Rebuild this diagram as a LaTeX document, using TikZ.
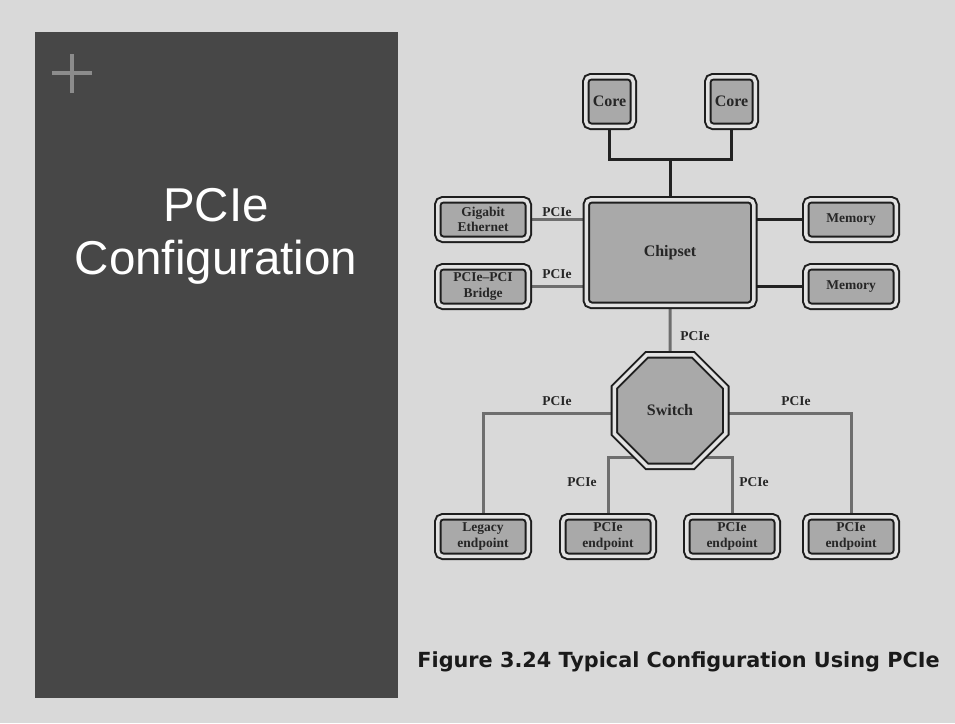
\documentclass[tikz,border=0pt]{standalone}
\usepackage{fontspec}
\setmainfont{Liberation Serif}
\newfontfamily\titlefont{Liberation Sans}
\newfontfamily\capfont{DejaVu Sans}
\usetikzlibrary{shapes.geometric,backgrounds}
\definecolor{pagebg}{HTML}{D9D9D9}
\definecolor{panel}{HTML}{474747}
\definecolor{plusc}{HTML}{8C8C8C}
\definecolor{boxline}{HTML}{1E1E1E}
\definecolor{boxgap}{HTML}{E2E2E2}
\definecolor{boxfill}{HTML}{A9A9A9}
\definecolor{lineblack}{HTML}{222222}
\definecolor{linegray}{HTML}{6E6E6E}
\definecolor{txt}{HTML}{262626}
\definecolor{captxt}{HTML}{1A1A1A}
\tikzset{
  dbox/.style={draw=boxline, line width=2pt, double=boxgap, double distance=3.5pt,
    fill=boxfill, rounded corners=5pt, inner sep=0pt, outer sep=0pt, align=center,
    text=txt, font=\bfseries\fontsize{13.5}{15.5}\selectfont},
  smallbox/.style={dbox, minimum width=90.5pt, minimum height=39.5pt},
  bigtext/.style={font=\bfseries\fontsize{16}{18}\selectfont},
  swbox/.style={draw=boxline, line width=2pt, double=boxgap, double distance=3.5pt,
    fill=boxfill, regular polygon, regular polygon sides=8, minimum size=120.7pt,
    inner sep=0pt, outer sep=0pt, text=txt, font=\bfseries\fontsize{16}{18}\selectfont},
  conblack/.style={draw=lineblack, line width=3pt},
  congray/.style={draw=linegray, line width=3pt},
  lab/.style={font=\bfseries\fontsize{13.5}{15}\selectfont, text=txt, inner sep=0pt},
  plusline/.style={draw=plusc, line width=3.5pt},
  titlef/.style={font=\titlefont\fontsize{47.5}{53}\selectfont, text=white, align=center, inner sep=0pt},
  capf/.style={font=\capfont\bfseries\fontsize{20.8}{24}\selectfont, text=captxt, inner sep=0pt}
}
\begin{document}
\begin{tikzpicture}[x=1pt,y=-1pt]
\path[use as bounding box] (0,0) rectangle (955,723);
\begin{pgfonlayer}{background}
  \fill[pagebg] (0,0) rectangle (955,723);
  \fill[panel] (35,32) rectangle (398,698);
\end{pgfonlayer}
% plus sign
\draw[plusline] (52,73) -- (92,73);
\draw[plusline] (72,54) -- (72,93);
% title
\node[titlef] (title) at (216,236) {PCIe\\Configuration};
% diagram nodes
\node[dbox, bigtext, minimum width=47.5pt, minimum height=49.5pt] (core1) at (609.5,101.5) {Core};
\node[dbox, bigtext, minimum width=47.5pt, minimum height=49.5pt] (core2) at (731.5,101.5) {Core};
\node[dbox, bigtext, minimum width=167.5pt, minimum height=105.5pt] (chip) at (670,252.5) {Chipset};
\node[smallbox] (gbe) at (483,219.5) {Gigabit\\Ethernet};
\node[smallbox] (bridge) at (483,286.5) {PCIe–PCI\\Bridge};
\node[smallbox] (mem1) at (851,219.5) {Memory};
\node[smallbox] (mem2) at (851,286.5) {Memory};
\node[swbox] (sw) at (670,410.5) {Switch};
\node[smallbox] (leg) at (483,536.5) {Legacy\\endpoint};
\node[smallbox] (ep1) at (608,536.5) {PCIe\\endpoint};
\node[smallbox] (ep2) at (732,536.5) {PCIe\\endpoint};
\node[smallbox] (ep3) at (851,536.5) {PCIe\\endpoint};
% connectors
\coordinate (cj) at (670,159);
\coordinate (swl) at (670,413);
\coordinate (swb) at (670,457);
\begin{pgfonlayer}{background}
  \draw[conblack] (core1.south) |- (cj) -| (core2.south);
  \draw[conblack] (cj) -- (chip.north);
  \draw[congray] (gbe.east) -- (gbe.east -| chip.west);
  \draw[congray] (bridge.east) -- (bridge.east -| chip.west);
  \draw[conblack] (mem1.west) -- (mem1.west -| chip.east);
  \draw[conblack] (mem2.west) -- (mem2.west -| chip.east);
  \draw[congray] (chip.south) -- (sw.north);
  \draw[congray] (leg.north) |- (swl) -| (ep3.north);
  \draw[congray] (ep1.north) |- (swb) -| (ep2.north);
\end{pgfonlayer}
% labels
\node[lab] (l1) at (557,212) {PCIe};
\node[lab] (l2) at (557,274) {PCIe};
\node[lab] (l3) at (695,336) {PCIe};
\node[lab] (l4) at (557,401) {PCIe};
\node[lab] (l5) at (796,401) {PCIe};
\node[lab] (l6) at (582,482) {PCIe};
\node[lab] (l7) at (754,482) {PCIe};
% caption
\node[capf] (cap) at (678.5,662) {Figure 3.24 Typical Configuration Using PCIe};
\end{tikzpicture}
\end{document}
